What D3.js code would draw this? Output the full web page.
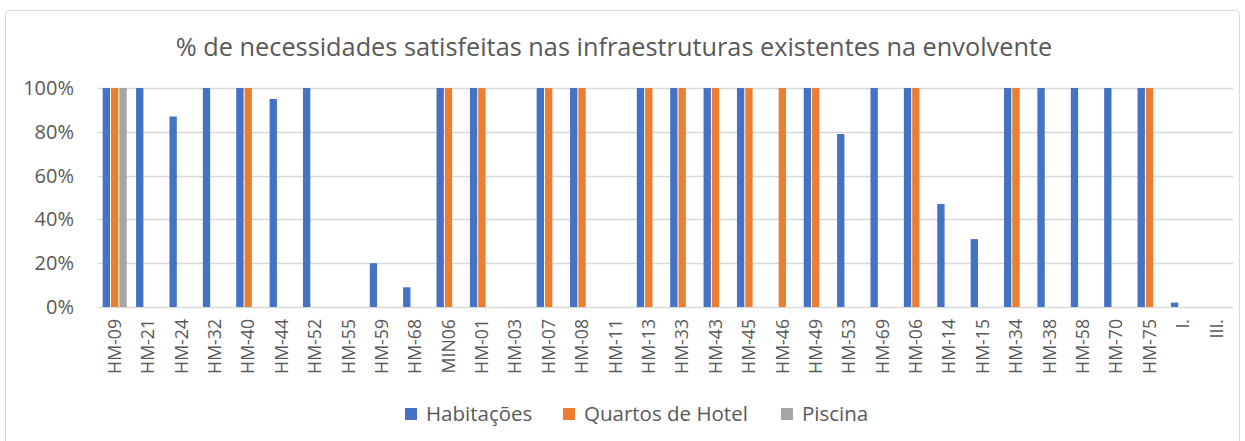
<!DOCTYPE html>
<html>
<head>
    <meta charset="utf-8">
    <style>
        body { margin: 0; background: white; }
        svg { font-family: 'Open Sans', 'Noto Sans', sans-serif; }
    </style>
</head>
<body>
<svg width="1245" height="441"></svg>
<script src="https://d3js.org/d3.v7.min.js"></script>
<script>
    // data
    let categories = ["HM-09", "HM-21", "HM-24", "HM-32", "HM-40", "HM-44", "HM-52", "HM-55", "HM-59", "HM-68",
        "MIN06", "HM-01", "HM-03", "HM-07", "HM-08", "HM-11", "HM-13", "HM-33", "HM-43", "HM-45",
        "HM-46", "HM-49", "HM-53", "HM-69", "HM-06", "HM-14", "HM-15", "HM-34", "HM-38", "HM-58",
        "HM-70", "HM-75", "I.", "III."]
    let series = ["Habitações", "Quartos de Hotel", "Piscina"]
    let habitacoes = [100, 100, 87, 100, 100, 95, 100, 0, 20, 9,
        100, 100, 0, 100, 100, 0, 100, 100, 100, 100,
        0, 100, 79, 100, 100, 47, 31, 100, 100, 100,
        100, 100, 2, 0]
    let quartos = [100, 0, 0, 0, 100, 0, 0, 0, 0, 0,
        100, 100, 0, 100, 100, 0, 100, 100, 100, 100,
        100, 100, 0, 0, 100, 0, 0, 100, 0, 0,
        0, 100, 0, 0]
    let piscina = [100, 0, 0, 0, 0, 0, 0, 0, 0, 0,
        0, 0, 0, 0, 0, 0, 0, 0, 0, 0,
        0, 0, 0, 0, 0, 0, 0, 0, 0, 0,
        0, 0, 0, 0]
    let yTicks = [0, 20, 40, 60, 80, 100]
    let colors = ["#4472c4", "#ed7d31", "#a5a5a5"]

    let values = [habitacoes, quartos, piscina]
    let svg = d3.select("svg")
    let textColor = "#595959"

    // chart border
    svg.append("rect")
        .attr("x", 5.5).attr("y", 10.5)
        .attr("width", 1234).attr("height", 440)
        .attr("rx", 4)
        .attr("fill", "white")
        .attr("stroke", "#d9d9d9")

    svg.append("text")
        .attr("x", 614).attr("y", 56)
        .attr("text-anchor", "middle")
        .attr("font-size", 25.3)
        .attr("fill", textColor)
        .text("% de necessidades satisfeitas nas infraestruturas existentes na envolvente")

    let x = d3.scaleBand()
        .domain(categories)
        .range([98, 1233])

    let x1 = d3.scaleBand()
        .domain(series)
        .range([-12, 12])
        .paddingInner(0.12)

    let y = d3.scaleLinear()
        .domain([0, 100])
        .range([307, 88])

    // gridlines
    svg.append("g")
        .selectAll("line")
        .data(yTicks)
        .join("line")
        .attr("x1", 98).attr("x2", 1233)
        .attr("y1", d => Math.round(y(d)) + 0.5)
        .attr("y2", d => Math.round(y(d)) + 0.5)
        .attr("stroke", "#d9d9d9")
        .attr("stroke-width", 1.3)

    // y labels
    svg.append("g")
        .selectAll("text")
        .data(yTicks)
        .join("text")
        .attr("x", 74)
        .attr("y", d => y(d))
        .attr("dy", "0.35em")
        .attr("text-anchor", "end")
        .attr("font-size", 20)
        .attr("fill", textColor)
        .text(d => d + "%")

    // bars
    series.forEach((s, i) => {
        svg.append("g")
            .selectAll("rect")
            .data(categories.map((c, j) => ({ cat: c, v: values[i][j] })).filter(d => d.v > 0))
            .join("rect")
            .attr("x", d => x(d.cat) + x.bandwidth() / 2 + x1(s))
            .attr("width", x1.bandwidth())
            .attr("y", d => y(d.v))
            .attr("height", d => y(0) - y(d.v))
            .attr("fill", colors[i])
    })

    // x labels rotated
    svg.append("g")
        .selectAll("text")
        .data(categories)
        .join("text")
        .attr("transform", d => `translate(${x(d) + x.bandwidth() / 2},319) rotate(-90)`)
        .attr("dy", "0.35em")
        .attr("text-anchor", "end")
        .attr("font-size", 17.7)
        .attr("fill", textColor)
        .text(d => d)

    // legend
    let legendX = [405, 563, 781]
    let legend = svg.append("g")
        .selectAll("g")
        .data(series)
        .join("g")
        .attr("transform", (d, i) => `translate(${legendX[i]},414)`)
    legend.append("rect")
        .attr("x", 0).attr("y", -6)
        .attr("width", 12).attr("height", 12)
        .attr("fill", (d, i) => colors[i])
    legend.append("text")
        .attr("x", 21)
        .attr("dy", "0.35em")
        .attr("font-size", 20.5)
        .attr("fill", textColor)
        .text(d => d)
</script>
</body>
</html>
